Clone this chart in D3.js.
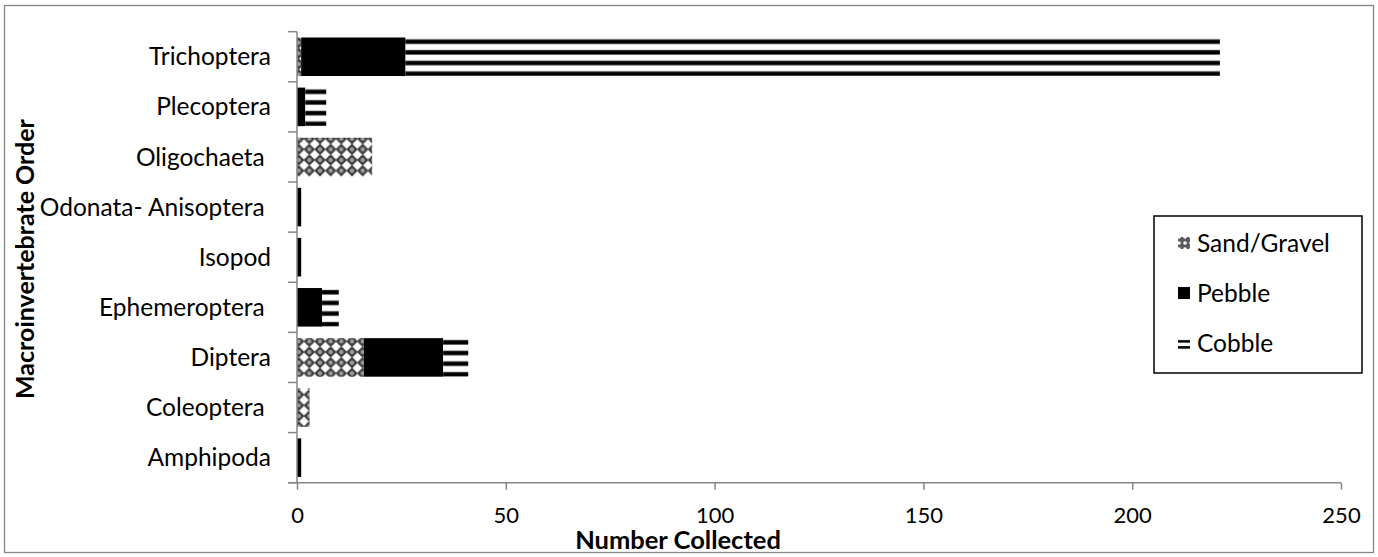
<!DOCTYPE html>
<html>
<head>
<meta charset="utf-8">
<script src="https://cdn.jsdelivr.net/npm/d3@7"></script>
<style>
  body { margin: 0; background: #fff; }
  svg text { font-family: Lato, "Open Sans", sans-serif; fill: #000; }
</style>
</head>
<body>
<svg id="chart" width="1378" height="557"></svg>
<script>
// Macroinvertebrates collected per substrate type
const categories = ["Trichoptera", "Plecoptera", "Oligochaeta ", "Odonata- Anisoptera ", "Isopod",
                    "Ephemeroptera ", "Diptera", "Coleoptera ", "Amphipoda"];
const sandGravel = [1, 0, 18, 0, 0, 0, 16, 3, 0];
const pebble     = [25, 2, 0, 1, 1, 6, 19, 0, 1];
const cobble     = [195, 5, 0, 0, 0, 4, 6, 0, 0];
const seriesNames = ["Sand/Gravel", "Pebble", "Cobble"];
const xTicks = [0, 50, 100, 150, 200, 250];

const svg = d3.select("#chart");
const W = 1378, H = 557;
const plot = { left: 297, right: 1341, top: 31.7, bottom: 482.7 };
const axisColor = "#868686";
const fontSize = 24.5;
const tickFontSize = 22;
const titleFontSize = 25.5;

// outer chart border
svg.append("rect").attr("x", 4.5).attr("y", 5.5).attr("width", W - 9).attr("height", H - 10)
  .attr("fill", "#fff").attr("stroke", axisColor).attr("stroke-width", 1.3);

const x = d3.scaleLinear().domain([0, 250]).range([plot.left, plot.right]);
const gap = 0.3 / 1.3;
const y = d3.scaleBand().domain(categories).range([plot.top, plot.bottom])
  .paddingInner(gap).paddingOuter(gap / 2);

const defs = svg.append("defs");
const cell = 32 / 3;

// sand/gravel texture
const sandPat = defs.append("pattern").attr("id", "sand").attr("patternUnits", "userSpaceOnUse")
  .attr("width", cell).attr("height", cell);
sandPat.append("rect").attr("width", cell).attr("height", cell).attr("fill", "#3c3c3c");
[[0, 0], [cell, 0], [0, cell], [cell, cell]].forEach(([cx, cy]) =>
  sandPat.append("circle").attr("cx", cx).attr("cy", cy).attr("r", 2.2).attr("fill", "#9a9a9a"));
sandPat.append("circle").attr("cx", cell / 2).attr("cy", cell / 2).attr("r", 3.4).attr("fill", "#fff");
sandPat.append("rect").attr("x", cell / 2 - 1).attr("y", 0.8).attr("width", 2).attr("height", cell - 1.6).attr("fill", "#fff");
sandPat.append("rect").attr("x", 0.8).attr("y", cell / 2 - 1).attr("width", cell - 1.6).attr("height", 2).attr("fill", "#fff");

// smaller version of the sand texture for the legend key
const sandKey = defs.append("pattern").attr("id", "sandKey").attr("patternUnits", "userSpaceOnUse")
  .attr("width", 6).attr("height", 6);
sandKey.append("rect").attr("width", 6).attr("height", 6).attr("fill", "#5a5a5a");
sandKey.append("circle").attr("cx", 3).attr("cy", 3).attr("r", 1.8).attr("fill", "#fff");

// horizontal stripes for cobble, anchored to a shape's top edge
function stripePattern(id, y0, period) {
  const p = defs.append("pattern").attr("id", id).attr("patternUnits", "userSpaceOnUse")
    .attr("x", 0).attr("y", y0).attr("width", period).attr("height", period);
  const k = period / cell;
  p.append("rect").attr("width", period).attr("height", period).attr("fill", "#fff");
  p.append("rect").attr("y", 1.6 * k).attr("width", period).attr("height", 5.2 * k).attr("fill", "#9a9a9a");
  p.append("rect").attr("y", 2.2 * k).attr("width", period).attr("height", 4 * k).attr("fill", "#000");
  return `url(#${id})`;
}

// stacked layout
const rows = categories.map((c, i) => ({ cat: c, "Sand/Gravel": sandGravel[i], Pebble: pebble[i], Cobble: cobble[i] }));
const stack = d3.stack().keys(seriesNames)(rows);
const fills = {
  "Sand/Gravel": () => "url(#sand)",
  "Pebble": () => "#000",
  "Cobble": (d, i) => stripePattern("cobble" + i, y(d.data.cat), cell)
};

const barG = svg.append("g");
stack.forEach(layer => {
  barG.append("g").selectAll("rect")
    .data(layer.filter(d => d[1] > d[0]))
    .join("rect")
    .attr("x", d => x(d[0]))
    .attr("y", d => y(d.data.cat))
    .attr("width", d => x(d[1]) - x(d[0]))
    .attr("height", y.bandwidth())
    .attr("fill", d => fills[layer.key](d, categories.indexOf(d.data.cat)));
});

// category axis: line plus ticks at band boundaries
const yAxisG = svg.append("g");
yAxisG.append("line").attr("x1", plot.left).attr("x2", plot.left)
  .attr("y1", plot.top).attr("y2", plot.bottom).attr("stroke", axisColor).attr("stroke-width", 1.5);
const step = y.step();
d3.range(categories.length + 1).forEach(i => {
  const yy = plot.top + i * step;
  yAxisG.append("line").attr("x1", plot.left - 9).attr("x2", plot.left)
    .attr("y1", yy).attr("y2", yy).attr("stroke", axisColor).attr("stroke-width", 1.5);
});
yAxisG.selectAll("text.cat").data(categories).join("text")
  .attr("class", "cat")
  .attr("x", 271).attr("y", d => y(d) + y.bandwidth() / 2)
  .attr("dy", "0.35em").attr("text-anchor", "end")
  .attr("font-size", fontSize).style("white-space", "pre")
  .text(d => d);

// value axis
const xAxis = d3.axisBottom(x).tickValues(xTicks).tickSize(7).tickSizeOuter(0).tickPadding(18);
const xAxisG = svg.append("g").attr("transform", `translate(0,${plot.bottom})`).call(xAxis);
xAxisG.select(".domain").attr("stroke", axisColor).attr("stroke-width", 1.5)
  .attr("d", `M${plot.left - 9},0H${plot.right}`);
xAxisG.selectAll(".tick line").attr("stroke", axisColor).attr("stroke-width", 1.5);
xAxisG.selectAll(".tick text").attr("font-size", tickFontSize)
  .attr("font-family", "Lato, 'Open Sans', sans-serif").attr("fill", "#000");

// axis titles
svg.append("text").attr("x", 678).attr("y", 549).attr("text-anchor", "middle")
  .attr("font-size", titleFontSize).attr("font-weight", "bold").text("Number Collected");
svg.append("text").attr("transform", "translate(34,259) rotate(-90)").attr("text-anchor", "middle")
  .attr("font-size", fontSize + 0.5).attr("font-weight", "bold").text("Macroinvertebrate Order");

// legend
const lg = svg.append("g");
lg.append("rect").attr("x", 1154).attr("y", 216).attr("width", 208).attr("height", 157)
  .attr("fill", "#fff").attr("stroke", "#000").attr("stroke-width", 1.5);
seriesNames.forEach((s, i) => {
  const cy = 243 + i * 50;
  const key = { "Sand/Gravel": "url(#sandKey)", "Pebble": "#000",
                "Cobble": stripePattern("cobbleKey", cy - 6, 6) }[s];
  lg.append("rect").attr("x", 1178).attr("y", cy - 6).attr("width", 12).attr("height", 12)
    .attr("fill", key);
  lg.append("text").attr("x", 1197).attr("y", cy).attr("dy", "0.35em")
    .attr("font-size", fontSize).text(s);
});
</script>
</body>
</html>
